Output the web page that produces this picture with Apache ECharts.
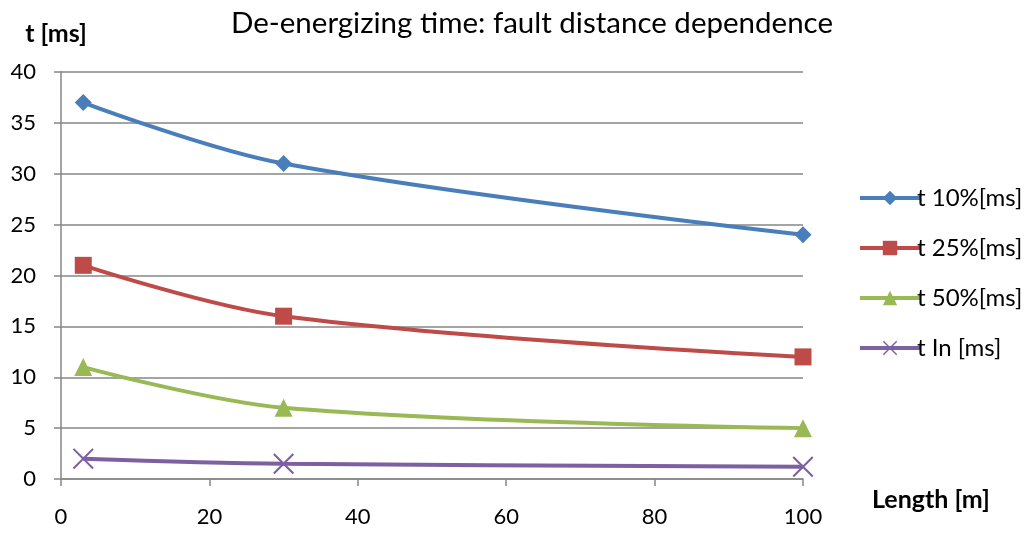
<!DOCTYPE html>
<html>
<head>
<meta charset="utf-8">
<script src="https://cdn.jsdelivr.net/npm/echarts@6/dist/echarts.min.js"></script>
<style>
  html, body { margin: 0; padding: 0; background: #fff; }
  #chart { width: 1030px; height: 535px; }
</style>
</head>
<body>
<div id="chart"></div>
<script>
const lengths = [3, 30, 100]
const seriesNames = ['t 10%[ms]', 't 25%[ms]', 't 50%[ms]', 't In [ms]']
const t10 = [37, 31, 24]
const t25 = [21, 16, 12]
const t50 = [11, 7, 5]
const tIn = [2, 1.5, 1.2]

const colors = ['#4A7EBB', '#BE4B48', '#98B954', '#7D60A0']
const crossPath = 'path://M0,0.7 L0.7,0 L5,4.3 L9.3,0 L10,0.7 L5.7,5 L10,9.3 L9.3,10 L5,5.7 L0.7,10 L0,9.3 L4.3,5 Z'
const symbols = ['diamond', 'rect', 'triangle', crossPath]
const symbolSizes = [17, 17, 18, 21]
const font = 'Lato, "Open Sans", sans-serif'

const chart = echarts.init(document.getElementById('chart'))

const allValues = [t10, t25, t50, tIn]
const series = allValues.map((vals, i) => ({
  name: seriesNames[i],
  type: 'line',
  smooth: 0.35,
  symbol: symbols[i],
  symbolSize: symbolSizes[i],
  showAllSymbol: true,
  lineStyle: { width: 4, color: colors[i] },
  itemStyle: { color: colors[i] },
  data: vals.map((v, k) => [lengths[k], v])
}))

chart.setOption({
  animation: false,
  title: {
    text: 'De-energizing time: fault distance dependence',
    left: 527, top: 3, textAlign: 'center',
    textStyle: { fontFamily: font, fontSize: 29.5, fontWeight: 'normal', color: '#000' }
  },
  legend: {
    orient: 'vertical',
    left: 853, top: 181,
    itemWidth: 60, itemHeight: 18, itemGap: 26,
    lineStyle: { width: 4 },
    textStyle: { fontFamily: font, fontSize: 24, color: '#000', padding: [0, 0, 0, -8] },
    data: seriesNames
  },
  grid: { left: 61, right: 227, top: 72, bottom: 56, outerBoundsMode: 'none' },
  xAxis: {
    type: 'value', min: 0, max: 100, interval: 20,
    name: 'Length [m]', nameLocation: 'end', nameGap: 0,
    nameTextStyle: { fontFamily: font, fontSize: 25, fontWeight: 'bold', color: '#000', verticalAlign: 'top', padding: [8, 0, 0, 69] },
    axisLine: { lineStyle: { color: '#868686', width: 1.5 } },
    axisTick: { show: true, length: 7, lineStyle: { color: '#868686', width: 1.5 } },
    axisLabel: { fontFamily: font, fontSize: 22, color: '#000', margin: 27 },
    splitLine: { show: false }
  },
  yAxis: {
    type: 'value', min: 0, max: 40, interval: 5,
    name: 't [ms]', nameLocation: 'end', nameGap: 26,
    nameTextStyle: { fontFamily: font, fontSize: 25, fontWeight: 'bold', color: '#000', align: 'center', padding: [0, 0, 0, -10] },
    axisLine: { show: true, lineStyle: { color: '#868686', width: 1.5 } },
    axisTick: { show: true, length: 7, lineStyle: { color: '#868686', width: 1.5 } },
    axisLabel: { fontFamily: font, fontSize: 22, color: '#000', margin: 25 },
    splitLine: { show: true, lineStyle: { color: '#868686', width: 1.5 } }
  },
  series
})
</script>
</body>
</html>
